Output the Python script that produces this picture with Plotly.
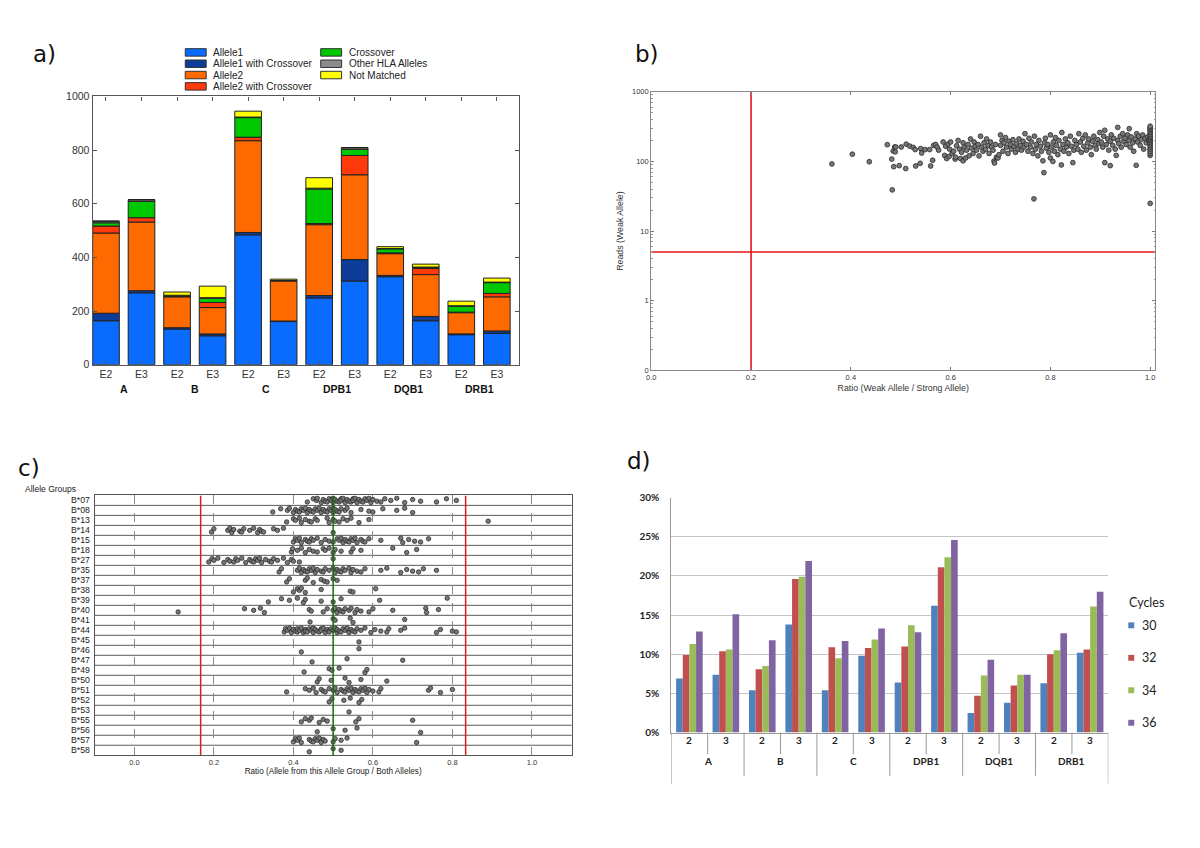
import plotly.graph_objects as go

# page body keeps the browser's default 8px margin, so the figure is drawn 8px in
W, H = 1200, 848
OFF = 8
FW, FH = W - 2 * OFF, H - 2 * OFF


def px(x):
    return (x - OFF) / FW


def py(y):
    return 1 - (y - OFF) / FH


# ---------------- panel a data ----------------
a_ticks = ["E2", "E3"] * 6
a_genes = ["A", "B", "C", "DPB1", "DQB1", "DRB1"]
allele1 = [164, 268, 133, 108, 484, 161, 249, 312, 328, 164, 112, 117]
allele1_cross = [28, 8, 5, 7, 9, 2, 9, 80, 5, 16, 3, 9]
allele2 = [299, 256, 115, 98, 342, 149, 264, 316, 81, 156, 79, 127]
allele2_cross = [26, 16, 2, 19, 13, 2, 4, 72, 3, 23, 2, 13]
crossover = [12, 61, 2, 16, 73, 0, 129, 23, 15, 4, 22, 40]
other_hla = [6, 6, 2, 2, 2, 0, 3, 6, 1, 1, 2, 2]
not_matched = [0, 0, 12, 43, 22, 5, 39, 0, 7, 11, 17, 15]
a_names = ["Allele1", "Allele1 with Crossover", "Allele2", "Allele2 with Crossover",
           "Crossover", "Other HLA Alleles", "Not Matched"]
a_colors = ["#0a6cff", "#0d3d99", "#ff6a00", "#ff3a0a", "#00c800", "#8c8c8c", "#ffff00"]
a_series = [allele1, allele1_cross, allele2, allele2_cross, crossover, other_hla, not_matched]

# ---------------- panel b data ----------------
ratio_b = [
    0.362, 0.403, 0.437, 0.473,
    0.482, 0.483, 0.485, 0.486, 0.488, 0.489, 0.490, 0.497, 0.501,
    0.510, 0.511, 0.518, 0.525, 0.529, 0.530, 0.539, 0.540, 0.542, 0.549,
    0.558, 0.560, 0.564, 0.566, 0.570, 0.573, 0.576, 0.585, 0.588, 0.590, 0.592, 0.595, 0.597, 0.598, 0.600, 0.603,
    0.606, 0.609, 0.610, 0.612, 0.615, 0.618, 0.620, 0.622, 0.625, 0.625, 0.627, 0.630, 0.632, 0.635, 0.637, 0.640, 0.642, 0.645, 0.647, 0.649,
    0.652, 0.655, 0.657, 0.660, 0.662, 0.665, 0.667, 0.670, 0.672, 0.675, 0.677, 0.680, 0.682, 0.685, 0.687, 0.688, 0.690, 0.692, 0.695, 0.697, 0.700, 0.700,
    0.703, 0.705, 0.707, 0.710, 0.712, 0.715, 0.717, 0.720, 0.722, 0.725, 0.727, 0.730, 0.732, 0.735, 0.737, 0.740, 0.742, 0.745, 0.747, 0.749,
    0.752, 0.755, 0.757, 0.760, 0.762, 0.765, 0.767, 0.768, 0.770, 0.772, 0.775, 0.777, 0.780, 0.782, 0.785, 0.787, 0.788, 0.790, 0.792, 0.795, 0.797, 0.800, 0.800,
    0.802, 0.805, 0.806, 0.808, 0.810, 0.812, 0.815, 0.817, 0.820, 0.822, 0.823, 0.825, 0.827, 0.830, 0.832, 0.835, 0.837, 0.840, 0.842, 0.845, 0.847, 0.849,
    0.852, 0.855, 0.857, 0.860, 0.862, 0.865, 0.867, 0.870, 0.872, 0.875, 0.877, 0.880, 0.882, 0.885, 0.887, 0.890, 0.892, 0.895, 0.897, 0.899,
    0.902, 0.905, 0.907, 0.909, 0.909, 0.912, 0.915, 0.917, 0.920, 0.920, 0.922, 0.925, 0.927, 0.930, 0.932, 0.935, 0.935, 0.937, 0.940, 0.942, 0.945, 0.947,
    0.950, 0.952, 0.955, 0.958, 0.958, 0.960, 0.962, 0.965, 0.967, 0.970, 0.972, 0.973, 0.975, 0.977, 0.980, 0.982, 0.985, 0.987, 0.990, 0.992, 0.995, 0.997,
    1.0, 1.0, 1.0, 1.0, 1.0, 1.0, 1.0, 1.0, 1.0, 1.0, 1.0, 1.0, 1.0, 1.0, 1.0, 1.0, 1.0, 1.0, 1.0,
]
reads_b = [
    92, 127, 99, 174,
    108, 39, 141, 84, 161, 137, 161, 87, 161,
    79, 177, 166, 159, 148, 86, 94, 153, 132, 148,
    148, 86, 104, 170, 175, 160, 145, 190, 122, 165, 110, 178, 118, 150, 190, 130,
    140, 108, 115, 168, 200, 150, 110, 135, 102, 185, 160, 112, 145, 175, 120, 210, 155, 130, 190, 165,
    145, 175, 120, 230, 160, 140, 185, 150, 210, 170, 130, 190, 160, 145, 101, 95, 175, 115, 112, 125, 240, 170,
    200, 140, 185, 220, 160, 130, 195, 175, 150, 205, 165, 135, 180, 150, 210, 170, 145, 195, 160, 250,
    175, 140, 215, 160, 190, 130, 29, 230, 150, 175, 120, 200, 165, 140, 102, 69, 185, 215, 155, 175, 135, 112, 240,
    160, 100, 190, 140, 220, 170, 125, 200, 150, 89, 260, 175, 140, 210, 160, 185, 130, 230, 165, 96, 145, 200,
    175, 150, 250, 190, 135, 215, 165, 240, 145, 185, 210, 160, 125, 195, 230, 170, 150, 205, 180, 260,
    190, 160, 230, 280, 96, 175, 210, 145, 87, 195, 240, 170, 215, 150, 122, 308, 200, 180, 230, 160, 250, 195,
    215, 175, 240, 295, 200, 160, 225, 185, 140, 210, 88, 250, 190, 230, 170, 205, 240, 150, 215, 185, 225, 200,
    122, 130, 140, 150, 160, 170, 180, 190, 200, 210, 220, 230, 245, 260, 275, 290, 305, 320, 25,
]
b_ratio_threshold = 0.2
b_reads_threshold = 5
b_yticks = [0.1, 1, 10, 100, 1000]
b_yticktext = ["0", "1", "10", "100", "1000"]

# ---------------- panel c data ----------------
c_groups = ["B*07", "B*08", "B*13", "B*14", "B*15", "B*18", "B*27", "B*35", "B*37", "B*38",
            "B*39", "B*40", "B*41", "B*44", "B*45", "B*46", "B*47", "B*49", "B*50", "B*51",
            "B*52", "B*53", "B*55", "B*56", "B*57", "B*58"]
b07 = [0.435, 0.45, 0.458, 0.46, 0.47, 0.475, 0.48, 0.485, 0.49, 0.495, 0.50, 0.50, 0.505, 0.51,
       0.515, 0.52, 0.52, 0.525, 0.53, 0.535, 0.54, 0.545, 0.55, 0.55, 0.555, 0.56, 0.565, 0.57,
       0.575, 0.58, 0.585, 0.59, 0.595, 0.60, 0.61, 0.62, 0.63, 0.645, 0.66, 0.68, 0.70, 0.72,
       0.76, 0.785, 0.81]
b08 = [0.348, 0.368, 0.385, 0.39, 0.40, 0.405, 0.41, 0.415, 0.42, 0.425, 0.43, 0.435, 0.44,
       0.445, 0.45, 0.455, 0.46, 0.465, 0.47, 0.475, 0.48, 0.485, 0.49, 0.495, 0.50, 0.50, 0.505,
       0.51, 0.515, 0.52, 0.53, 0.535, 0.545, 0.57, 0.59, 0.60, 0.625, 0.66, 0.68, 0.70]
b13 = [0.383, 0.40, 0.405, 0.415, 0.42, 0.43, 0.44, 0.445, 0.455, 0.46, 0.485, 0.49, 0.50,
       0.505, 0.515, 0.525, 0.535, 0.545, 0.565, 0.59, 0.89]
b14 = [0.194, 0.20, 0.235, 0.24, 0.245, 0.25, 0.265, 0.27, 0.275, 0.29, 0.30, 0.31, 0.315,
       0.32, 0.325, 0.35, 0.36, 0.375, 0.50]
b15 = [0.40, 0.405, 0.41, 0.415, 0.42, 0.43, 0.435, 0.44, 0.445, 0.45, 0.46, 0.47, 0.48, 0.49,
       0.50, 0.51, 0.515, 0.52, 0.525, 0.53, 0.535, 0.54, 0.545, 0.55, 0.555, 0.56, 0.57, 0.575,
       0.58, 0.59, 0.62, 0.67, 0.675, 0.69, 0.705, 0.72, 0.74]
b18 = [0.395, 0.398, 0.41, 0.42, 0.43, 0.44, 0.45, 0.46, 0.475, 0.48, 0.49, 0.50, 0.505, 0.52,
       0.545, 0.55, 0.57, 0.65, 0.685, 0.71]
b27 = [0.187, 0.195, 0.20, 0.21, 0.225, 0.235, 0.24, 0.25, 0.255, 0.26, 0.27, 0.28, 0.29,
       0.295, 0.30, 0.305, 0.31, 0.315, 0.32, 0.33, 0.34, 0.345, 0.35, 0.36, 0.375, 0.385, 0.395,
       0.40, 0.415, 0.50]
b35 = [0.364, 0.37, 0.41, 0.415, 0.42, 0.425, 0.43, 0.435, 0.44, 0.445, 0.45, 0.455, 0.46,
       0.47, 0.475, 0.48, 0.49, 0.50, 0.505, 0.51, 0.515, 0.52, 0.525, 0.53, 0.54, 0.545, 0.55,
       0.56, 0.57, 0.58, 0.62, 0.635, 0.67, 0.685, 0.70, 0.715, 0.727, 0.76]
b37 = [0.383, 0.39, 0.43, 0.435, 0.45, 0.47, 0.478, 0.485, 0.50, 0.51]
b38 = [0.40, 0.41, 0.415, 0.42, 0.43, 0.47, 0.543, 0.55, 0.607]
b39 = [0.337, 0.37, 0.39, 0.41, 0.425, 0.43, 0.47, 0.50, 0.52, 0.617, 0.787]
b40 = [0.11, 0.277, 0.30, 0.317, 0.327, 0.44, 0.445, 0.475, 0.485, 0.50, 0.505, 0.51, 0.515,
       0.52, 0.525, 0.53, 0.54, 0.545, 0.555, 0.56, 0.57, 0.59, 0.60, 0.65, 0.733, 0.735, 0.765]
b41 = [0.442, 0.50, 0.505, 0.543, 0.55, 0.68]
b44 = [0.377, 0.38, 0.385, 0.39, 0.395, 0.40, 0.405, 0.41, 0.41, 0.415, 0.42, 0.425, 0.43,
       0.43, 0.435, 0.44, 0.445, 0.45, 0.45, 0.455, 0.46, 0.465, 0.47, 0.47, 0.475, 0.48, 0.485,
       0.49, 0.49, 0.495, 0.50, 0.505, 0.51, 0.51, 0.515, 0.52, 0.525, 0.53, 0.535, 0.54, 0.545,
       0.55, 0.555, 0.56, 0.57, 0.58, 0.595, 0.605, 0.62, 0.635, 0.64, 0.67, 0.68, 0.76, 0.77,
       0.80, 0.81]
b45 = [0.565]
b46 = [0.42, 0.565]
b47 = [0.447, 0.535, 0.675]
b49 = [0.427, 0.49, 0.497, 0.515, 0.58, 0.585]
b50 = [0.46, 0.465, 0.495, 0.53, 0.54, 0.57, 0.635]
b51 = [0.383, 0.43, 0.44, 0.45, 0.457, 0.47, 0.475, 0.48, 0.49, 0.50, 0.505, 0.51, 0.52, 0.525,
       0.53, 0.535, 0.54, 0.545, 0.55, 0.555, 0.56, 0.565, 0.57, 0.575, 0.58, 0.585, 0.59, 0.60,
       0.615, 0.62, 0.74, 0.745, 0.77, 0.80]
b52 = [0.49, 0.497, 0.527, 0.543, 0.565, 0.572]
b53 = [0.54]
b55 = [0.42, 0.43, 0.44, 0.445, 0.465, 0.475, 0.485, 0.557, 0.565, 0.70]
b56 = [0.46, 0.50, 0.53, 0.56, 0.72]
b57 = [0.40, 0.405, 0.41, 0.415, 0.42, 0.44, 0.445, 0.45, 0.455, 0.46, 0.465, 0.47, 0.475,
       0.48, 0.50, 0.505, 0.52, 0.535, 0.71]
b58 = [0.44, 0.50, 0.52]
c_values = [b07, b08, b13, b14, b15, b18, b27, b35, b37, b38, b39, b40, b41, b44, b45, b46,
            b47, b49, b50, b51, b52, b53, b55, b56, b57, b58]
c_low_cut = 1 / 6
c_high_cut = 5 / 6
c_mid = 0.5

# ---------------- panel d data ----------------
d_sub = ["2", "3"] * 6
d_genes = ["A", "B", "C", "DPB1", "DQB1", "DRB1"]
cycles = ["30", "32", "34", "36"]
pct_30 = [6.9, 7.4, 5.4, 13.8, 5.4, 9.8, 6.4, 16.2, 2.5, 3.8, 6.3, 10.2]
pct_32 = [9.9, 10.4, 8.1, 19.6, 10.9, 10.8, 11.0, 21.1, 4.7, 6.0, 10.0, 10.6]
pct_34 = [11.3, 10.6, 8.5, 19.9, 9.5, 11.9, 13.7, 22.4, 7.3, 7.4, 10.5, 16.1]
pct_36 = [12.9, 15.1, 11.8, 21.9, 11.7, 13.3, 12.8, 24.6, 9.3, 7.4, 12.7, 18.0]
d_yticks = [0, 5, 10, 15, 20, 25, 30]
d_colors = ["#4f81bd", "#c0504d", "#9bbb59", "#8064a2"]

fig = go.Figure()
shapes = []
annotations = []
ARIAL = "Liberation Sans, Arial, sans-serif"

# ================= panel a =================
xa = list(range(len(a_ticks)))
base = [0] * len(xa)
for name, vals, col in zip(a_names, a_series, a_colors):
    fig.add_trace(go.Bar(
        x=xa, y=vals, base=list(base), name=name, width=0.75, offsetgroup="a",
        marker=dict(color=col, line=dict(color="#222222", width=1)),
        xaxis="x", yaxis="y", showlegend=False))
    base = [b + v for b, v in zip(base, vals)]

for i, g in enumerate(a_genes):
    annotations.append(dict(x=2 * i + 0.5, y=py(388), xref="x", yref="paper", text="<b>%s</b>" % g,
                            showarrow=False, font=dict(family=ARIAL, size=10.5, color="#111"),
                            xanchor="center", yanchor="middle"))

# manual legend (two columns)
leg_pos = [(181, 46), (181, 57.5), (181, 69), (181, 80.5), (317, 46), (317, 57.5), (317, 69)]
for (lx, ly), name, col in zip(leg_pos, a_names, a_colors):
    shapes.append(dict(type="rect", xref="paper", yref="paper", x0=px(lx), x1=px(lx + 21),
                       y0=py(ly + 3.8), y1=py(ly - 3.8), fillcolor=col,
                       line=dict(color="#333", width=1)))
    annotations.append(dict(x=px(lx + 26), y=py(ly), xref="paper", yref="paper", text=name,
                            showarrow=False, xanchor="left", yanchor="middle",
                            font=dict(family=ARIAL, size=10, color="#222")))

# ================= panel b =================
fig.add_trace(go.Scatter(
    x=ratio_b, y=reads_b, mode="markers", xaxis="x2", yaxis="y2", showlegend=False,
    marker=dict(size=4.8, color="#777777", line=dict(color="#2a2a2a", width=0.8))))
fig.add_trace(go.Scatter(
    x=[b_ratio_threshold, b_ratio_threshold], y=[b_yticks[0], b_yticks[-1]], mode="lines",
    xaxis="x2", yaxis="y2", showlegend=False, line=dict(color="#e8141c", width=1.6)))
fig.add_trace(go.Scatter(
    x=[0, 1.01], y=[b_reads_threshold, b_reads_threshold], mode="lines",
    xaxis="x2", yaxis="y2", showlegend=False, line=dict(color="#e8141c", width=1.6)))

# ================= panel c =================
n_c = len(c_groups)
jit = [-0.16, 0.16, 0.0, 0.22, -0.22, 0.08, -0.08]
for i, (g, vals) in enumerate(zip(c_groups, c_values)):
    yrow = n_c - 1 - i
    fig.add_trace(go.Scatter(
        x=vals, y=[yrow + jit[k % len(jit)] for k in range(len(vals))], mode="markers",
        xaxis="x3", yaxis="y3", showlegend=False, name=g,
        marker=dict(size=4.5, color="#777777", line=dict(color="#222", width=0.7))))
for xv, col in [(c_low_cut, "#e01a1a"), (c_high_cut, "#e01a1a"), (c_mid, "#106d10")]:
    fig.add_trace(go.Scatter(x=[xv, xv], y=[-0.5, n_c - 0.5], mode="lines", xaxis="x3",
                             yaxis="y3", showlegend=False, line=dict(color=col, width=1.5)))
for k in range(n_c - 1):
    shapes.append(dict(type="line", xref="x3 domain", yref="y3", x0=0, x1=1, y0=k + 0.5,
                       y1=k + 0.5, line=dict(color="#5a5a5a", width=1), layer="below"))
annotations.append(dict(x=px(18), y=py(490), xref="paper", yref="paper", text="Allele Groups",
                        showarrow=False, xanchor="left", yanchor="middle",
                        font=dict(family=ARIAL, size=8.5, color="#222")))

# ================= panel d =================
xd = list(range(len(d_sub)))
for name, vals, col in zip(cycles, [pct_30, pct_32, pct_34, pct_36], d_colors):
    fig.add_trace(go.Bar(x=xd, y=vals, name=name, offsetgroup="d" + name,
                         marker=dict(color=col, line=dict(width=0)),
                         xaxis="x4", yaxis="y4", showlegend=False))
for i, s in enumerate(d_sub):
    annotations.append(dict(x=i, y=py(753), xref="x4", yref="paper", text="<b>%s</b>" % s,
                            showarrow=False, font=dict(family="Lato, sans-serif", size=10, color="#222")))
for i, g in enumerate(d_genes):
    annotations.append(dict(x=2 * i + 0.5, y=py(774), xref="x4", yref="paper",
                            text="<b>%s</b>" % g, showarrow=False,
                            font=dict(family="Lato, sans-serif", size=10, color="#222")))
for k in range(len(d_sub) + 1):
    xb = k - 0.5
    if k == 0 or k == len(d_sub):
        yb = 789
    elif k % 2 == 0:
        yb = 781
    else:
        yb = 759
    shapes.append(dict(type="line", xref="x4", yref="paper", x0=xb, x1=xb, y0=py(737), y1=py(yb),
                       line=dict(color="#9a9a9a", width=1)))
annotations.append(dict(x=px(1127), y=py(605), xref="paper", yref="paper", text="Cycles",
                        showarrow=False, xanchor="left", yanchor="middle",
                        font=dict(family="Lato, sans-serif", size=12.5, color="#222")))
for j, (name, col) in enumerate(zip(cycles, d_colors)):
    ly = 628 + j * 33
    shapes.append(dict(type="rect", xref="paper", yref="paper", x0=px(1128), x1=px(1134),
                       y0=py(ly + 3), y1=py(ly - 3), fillcolor=col, line=dict(width=0)))
    annotations.append(dict(x=px(1140), y=py(ly), xref="paper", yref="paper", text=name,
                            showarrow=False, xanchor="left", yanchor="middle",
                            font=dict(family="Lato, sans-serif", size=12.5, color="#222")))

# panel labels
for lab, lx, ly in [("a)", 26, 48), ("b)", 631, 48), ("c)", 11, 468), ("d)", 623, 461)]:
    annotations.append(dict(x=px(lx), y=py(ly), xref="paper", yref="paper", text=lab,
                            showarrow=False, xanchor="left", yanchor="middle",
                            font=dict(family="DejaVu Sans, sans-serif", size=23, color="#111")))

axis_common = dict(showgrid=False, zeroline=False, showline=True)

fig.update_layout(
    width=FW, height=FH, margin=dict(l=0, r=0, t=0, b=0),
    paper_bgcolor="white", plot_bgcolor="white",
    barmode="group", bargap=0.27, bargroupgap=0,
    font=dict(family=ARIAL, color="#333"),
    xaxis=dict(**axis_common, domain=[px(88), px(516)], range=[-0.375, 11.62], anchor="y",
               tickmode="array", tickvals=xa, ticktext=a_ticks, ticks="inside", ticklen=4,
               tickcolor="#555", mirror="ticks", linecolor="#555", linewidth=1.2,
               tickfont=dict(family=ARIAL, size=10.5, color="#333")),
    yaxis=dict(**axis_common, domain=[py(363.3), py(90.7)], range=[0, 1000], anchor="x",
               tickmode="array", tickvals=[0, 200, 400, 600, 800, 1000], ticks="inside",
               ticklen=4, tickcolor="#555", mirror="ticks", linecolor="#555", linewidth=1.2,
               tickfont=dict(family=ARIAL, size=10.5, color="#333")),
    xaxis2=dict(**axis_common, domain=[px(649), px(1155)], range=[0, 1.01], anchor="y2",
                tickmode="array", tickvals=[0, 0.2, 0.4, 0.6, 0.8, 1.0],
                ticktext=["0.0", "0.2", "0.4", "0.6", "0.8", "1.0"], ticks="inside", ticklen=3,
                tickcolor="#777", mirror="ticks", linecolor="#888", linewidth=1.2,
                tickfont=dict(family=ARIAL, size=7.5, color="#333"),
                title=dict(text="Ratio (Weak Allele / Strong Allele)", standoff=3,
                           font=dict(family=ARIAL, size=8.8, color="#333"))),
    yaxis2=dict(**axis_common, type="log", domain=[py(369), py(86)], range=[-1, 3],
                anchor="x2", tickmode="array", tickvals=b_yticks, ticktext=b_yticktext,
                ticks="inside", ticklen=3, tickcolor="#777", mirror="ticks", linecolor="#888",
                linewidth=1.2, tickfont=dict(family=ARIAL, size=7.5, color="#333"),
                minor=dict(ticks="inside", ticklen=1.5, tickcolor="#999",
                           tickvals=[m * 10 ** e for e in range(-1, 3) for m in range(2, 10)]),
                title=dict(text="Reads (Weak Allele)", standoff=6,
                           font=dict(family=ARIAL, size=8.8, color="#333"))),
    xaxis3=dict(showline=True, zeroline=False, domain=[px(90), px(569)], range=[-0.1, 1.1],
                anchor="y3", tickmode="array", tickvals=[0, 0.2, 0.4, 0.6, 0.8, 1.0],
                ticktext=["0.0", "0.2", "0.4", "0.6", "0.8", "1.0"], mirror=True,
                linecolor="#555", linewidth=1, showgrid=True, gridcolor="#8a8a8a",
                griddash="dash", gridwidth=1, tickfont=dict(family=ARIAL, size=7.5, color="#333"),
                title=dict(text="Ratio (Allele from this Allele Group / Both Alleles)", standoff=2,
                           font=dict(family=ARIAL, size=8.2, color="#222"))),
    yaxis3=dict(**axis_common, domain=[py(760), py(496)], range=[-0.5, n_c - 0.5], anchor="x3",
                tickmode="array", tickvals=list(range(n_c)), ticktext=c_groups[::-1],
                mirror=True, linecolor="#555", linewidth=1, ticks="", ticklabelstandoff=2,
                tickfont=dict(family=ARIAL, size=8.7, color="#222")),
    xaxis4=dict(showgrid=False, zeroline=False, showline=True, domain=[px(669), px(1108)],
                range=[-0.5, 11.5], anchor="y4", showticklabels=False, ticks="",
                linecolor="#9a9a9a", linewidth=1),
    yaxis4=dict(zeroline=False, showline=True, domain=[py(737), py(498.3)], range=[0, 30],
                anchor="x4", tickmode="array", tickvals=d_yticks,
                ticktext=["%d%%" % v for v in d_yticks], showgrid=True, gridcolor="#c4c4c4",
                gridwidth=1, ticks="", linecolor="#9a9a9a", linewidth=1, ticklabelstandoff=9,
                tickfont=dict(family="Lato, sans-serif", size=10, color="#222", weight="bold")),
    shapes=shapes,
    annotations=annotations,
)

fig.write_html("out.html")
